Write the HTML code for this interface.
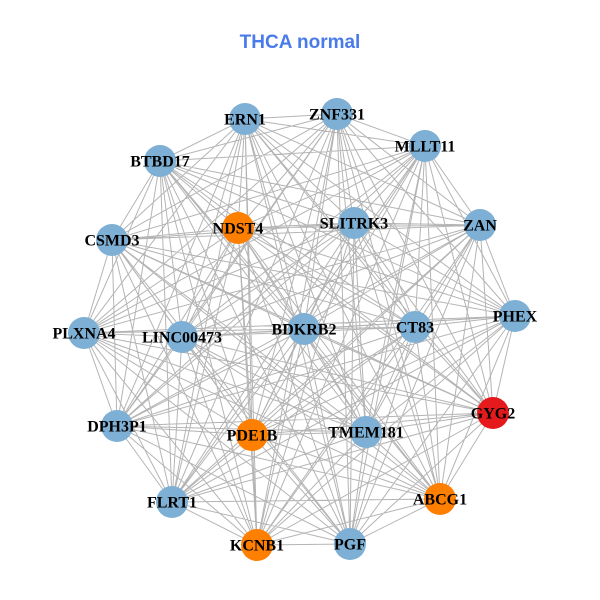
<!DOCTYPE html>
<html>
<head>
<meta charset="utf-8">
<style>
  html, body { margin: 0; padding: 0; background: #ffffff; }
  svg { display: block; }
  .lbl { font-family: "Liberation Serif", serif; font-weight: bold; font-size: 16px; fill: #000; }
  .title { font-family: "Liberation Sans", sans-serif; font-weight: bold; font-size: 19px; fill: #4a7bea; }
</style>
</head>
<body>
<svg id="g" width="600" height="600" viewBox="0 0 600 600" xmlns="http://www.w3.org/2000/svg">
  <rect width="600" height="600" fill="#ffffff"/>
  <text class="title" x="300" y="48" text-anchor="middle">THCA normal</text>
  <g id="edges" stroke="#b4b4b4" stroke-width="1" fill="none"></g>
  <g id="nodes"></g>
  <g id="labels"></g>
</svg>
<script>
var N = [
  ["ERN1",245,119,"b"],
  ["ZNF331",337,114,"b"],
  ["MLLT11",425,146,"b"],
  ["BTBD17",160,161,"b"],
  ["NDST4",238,228,"o"],
  ["SLITRK3",354,223,"b"],
  ["ZAN",480,225,"b"],
  ["CSMD3",112,240,"b"],
  ["PHEX",515,316,"b"],
  ["PLXNA4",84,333,"b"],
  ["LINC00473",182,337,"b"],
  ["BDKRB2",304,329,"b"],
  ["CT83",415,327,"b"],
  ["GYG2",493,413,"r"],
  ["DPH3P1",117,426,"b"],
  ["PDE1B",252,435,"o"],
  ["TMEM181",366,432,"b"],
  ["ABCG1",440,499,"o"],
  ["FLRT1",172,502,"b"],
  ["KCNB1",257,545,"o"],
  ["PGF",350,544,"b"]
];
var col = {b:"#7eb0d5", o:"#ff7f00", r:"#e41a1c"};
var ns = "http://www.w3.org/2000/svg";
var E = document.getElementById("edges"),
    C = document.getElementById("nodes"),
    L = document.getElementById("labels");
var d = "";
for (var i = 0; i < N.length; i++) {
  for (var j = i + 1; j < N.length; j++) {
    d += "M" + N[i][1] + " " + N[i][2] + "L" + N[j][1] + " " + N[j][2];
  }
}
var p = document.createElementNS(ns, "path");
p.setAttribute("d", d);
E.appendChild(p);
for (var k = 0; k < N.length; k++) {
  var c = document.createElementNS(ns, "circle");
  c.setAttribute("cx", N[k][1]); c.setAttribute("cy", N[k][2]);
  c.setAttribute("r", 16); c.setAttribute("fill", col[N[k][3]]);
  C.appendChild(c);
  var t = document.createElementNS(ns, "text");
  t.setAttribute("x", N[k][1]); t.setAttribute("y", N[k][2] + 5.5);
  t.setAttribute("text-anchor", "middle");
  t.setAttribute("class", "lbl");
  t.textContent = N[k][0];
  L.appendChild(t);
}
</script>
</body>
</html>
